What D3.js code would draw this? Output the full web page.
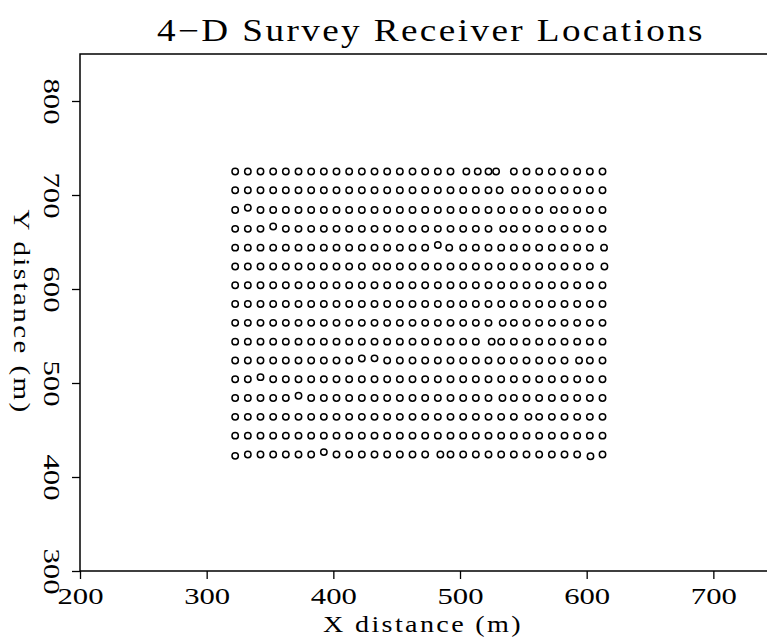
<!DOCTYPE html>
<html>
<head>
<meta charset="utf-8">
<script src="https://cdn.jsdelivr.net/npm/d3@7/dist/d3.min.js"></script>
<style>
  html, body { margin: 0; padding: 0; background: #fff; }
  svg { display: block; }
  text { font-family: "Liberation Serif", "DejaVu Serif", serif; fill: #000; }
</style>
</head>
<body>
<script>
// Receiver grid: nominal column (X) and row (Y) positions in metres
const columnX = [322.5, 332.5, 342.5, 352.5, 362.5, 372.5, 382.5, 392.5, 402.5, 412.5,
                 422.5, 432.5, 442.5, 452.5, 462.5, 472.5, 482.5, 492.5, 502.5, 512.5,
                 522.5, 532.5, 542.5, 552.5, 562.5, 572.5, 582.5, 592.5, 602.5, 612.5];
const rowY = [424, 444, 464, 484, 504, 524, 544, 564, 584, 604, 624, 644, 664, 684, 705, 725];

// Receivers that sit off their nominal spot: [row index, column index, dx (m), dy (m)]
const displaced = [
  [15, 18, 2.5, 0], [15, 19, 1.5, 0], [15, 21, -4, 0],
  [14, 21, -1.2, 0], [14, 22, 1, 0],
  [13, 1, 0, 2.5], [13, 25, 1.5, 0],
  [12, 3, 0, 2.5], [12, 21, 1.6, 0],
  [11, 16, 0, 2.8], [11, 17, -1, 0], [11, 29, 1.2, 0],
  [10, 11, 1.5, 0], [10, 29, 1.5, 0],
  [7, 21, 1.2, 0],
  [6, 20, 2.5, 0],
  [5, 10, 0, 2], [5, 11, 0, 2.2], [5, 27, 1.5, 0],
  [4, 2, 0, 2.2],
  [3, 5, 0, 2.5], [3, 21, 1, 0],
  [2, 23, 1.5, 0],
  [0, 0, 0, -1.5], [0, 7, 0, 2.5], [0, 16, 2, 0], [0, 28, 0.5, -2]
];

const xTicks = [200, 300, 400, 500, 600, 700];
const yTicks = [300, 400, 500, 600, 700, 800];

const titleText = "4\u2212D Survey Receiver Locations";
const xLabel = "X distance (m)";
const yLabel = "Y distance (m)";

const W = 767, H = 640;
const plotLeft = 80, plotTop = 54, plotBottom = 571;

const x = d3.scaleLinear().domain([200, 750]).range([plotLeft, plotLeft + 550 * 1.2667]);
const y = d3.scaleLinear().domain([300, 850]).range([plotBottom, plotTop]);

// Build receiver list
const offsetMap = new Map(displaced.map(d => [d[0] + "," + d[1], d]));
const receivers = [];
rowY.forEach((yv, r) => {
  columnX.forEach((xv, c) => {
    const o = offsetMap.get(r + "," + c);
    receivers.push({ x: xv + (o ? o[2] : 0), y: yv + (o ? o[3] : 0) });
  });
});

const svg = d3.select("body").append("svg")
  .attr("width", W).attr("height", H);

// Frame: left axis, top border, bottom axis
svg.append("path")
  .attr("stroke", "#000").attr("stroke-width", 1.5).attr("fill", "none")
  .attr("d", `M${x.range()[1]},${plotTop}H${plotLeft}V${plotBottom}H${x.range()[1]}`);

// Wide, open lettering: stretch glyphs and spacing to a given run length
function stretch(sel, len) {
  sel.attr("textLength", len).attr("lengthAdjust", "spacingAndGlyphs");
}

// X axis
const xAxis = svg.append("g")
  .attr("transform", `translate(0,${plotBottom})`)
  .call(d3.axisBottom(x).tickValues(xTicks).tickSize(8).tickSizeOuter(0).tickFormat(d3.format("d")));
xAxis.select(".domain").remove();
xAxis.selectAll(".tick line").attr("stroke", "#000").attr("stroke-width", 1.3);
xAxis.selectAll(".tick text")
  .attr("font-size", 24)
  .attr("font-family", "Liberation Serif, serif")
  .attr("dy", null)
  .attr("y", 33)
  .attr("fill", "#000")
  .call(stretch, 46);

// Y axis
const yAxis = svg.append("g")
  .attr("transform", `translate(${plotLeft},0)`)
  .call(d3.axisLeft(y).tickValues(yTicks).tickSize(8).tickSizeOuter(0).tickFormat(d3.format("d")));
yAxis.select(".domain").remove();
yAxis.selectAll(".tick line").attr("stroke", "#000").attr("stroke-width", 1.3);
yAxis.selectAll(".tick text")
  .attr("font-size", 24)
  .attr("font-family", "Liberation Serif, serif")
  .attr("x", null).attr("dy", null)
  .attr("text-anchor", "middle")
  .attr("dominant-baseline", "central")
  .attr("transform", "translate(-28,0) rotate(90)")
  .attr("fill", "#000")
  .call(stretch, 46);

// Title and axis labels
svg.append("text")
  .attr("x", 431).attr("y", 41)
  .attr("text-anchor", "middle")
  .attr("font-size", 31)
  .style("letter-spacing", "2px")
  .call(stretch, 548)
  .text(titleText);

svg.append("text")
  .attr("x", 423).attr("y", 632)
  .attr("text-anchor", "middle")
  .attr("font-size", 24)
  .style("letter-spacing", "2px")
  .call(stretch, 200)
  .text(xLabel);

svg.append("text")
  .attr("transform", "translate(22,312) rotate(90)")
  .attr("text-anchor", "middle")
  .attr("dominant-baseline", "central")
  .attr("font-size", 24)
  .style("letter-spacing", "2px")
  .call(stretch, 205)
  .text(yLabel);

// Receiver markers
svg.append("g")
  .selectAll("circle")
  .data(receivers)
  .join("circle")
  .attr("cx", d => x(d.x))
  .attr("cy", d => y(d.y))
  .attr("r", 3.2)
  .attr("fill", "none")
  .attr("stroke", "#000")
  .attr("stroke-width", 1.5);
</script>
</body>
</html>
